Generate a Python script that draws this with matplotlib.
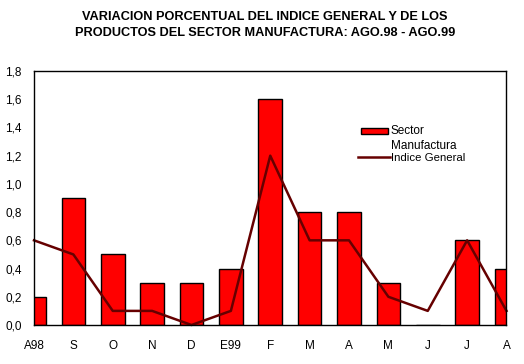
import matplotlib
matplotlib.use("Agg")
import matplotlib.pyplot as plt
from matplotlib.patches import Rectangle
from matplotlib.lines import Line2D
import numpy as np

plt.rcParams['font.family'] = ['Liberation Sans', 'DejaVu Sans']

months = ["A98", "S", "O", "N", "D", "E99", "F", "M", "A", "M", "J", "J", "A"]
sector = [0.2, 0.9, 0.5, 0.3, 0.3, 0.4, 1.6, 0.8, 0.8, 0.3, 0.0, 0.6, 0.4]
indice = [0.6, 0.5, 0.1, 0.1, 0.0, 0.1, 1.2, 0.6, 0.6, 0.2, 0.1, 0.6, 0.1]
yticks = [0.0, 0.2, 0.4, 0.6, 0.8, 1.0, 1.2, 1.4, 1.6, 1.8]

fig = plt.figure(figsize=(5.24, 3.64), dpi=100)
ax = fig.add_axes([34/524, 1-325/364, (506.5-34)/524, (325-71)/364])

x = np.arange(len(months))
ax.bar(x, sector, width=0.6, color='#FF0000', edgecolor='black', linewidth=1.0, zorder=2)
ax.plot(x, indice, color='#660000', linewidth=1.8, zorder=3, clip_on=False)

ax.set_xlim(0, len(months)-1)
ax.set_ylim(0, 1.8)
ax.set_yticks(yticks)
ax.set_yticklabels([f"{v:.1f}".replace('.', ',') for v in yticks], fontsize=8.5)
ax.set_xticks(x)
ax.set_xticklabels(months, fontsize=8.5)
ax.tick_params(axis='y', length=0, pad=9)
ax.tick_params(axis='x', length=0, pad=11)
for s in ax.spines.values():
    s.set_linewidth(1.0)
    s.set_zorder(4)

# legend
ax.add_patch(Rectangle((0.692, 0.753), 0.057, 0.024, transform=ax.transAxes,
                       facecolor='#FF0000', edgecolor='black', linewidth=1.0, clip_on=False))
ax.text(0.755, 0.765, "Sector", transform=ax.transAxes, fontsize=8.5, va='center', ha='left')
ax.text(0.755, 0.703, "Manufactura", transform=ax.transAxes, fontsize=8.5, va='center', ha='left')
ax.add_line(Line2D([0.686, 0.753], [0.661, 0.661], transform=ax.transAxes,
                   color='#660000', linewidth=1.8))
ax.text(0.755, 0.658, "Indice General", transform=ax.transAxes, fontsize=8.2, va='center', ha='left')

fig.text(0.506, 1-17/364, "VARIACION PORCENTUAL DEL INDICE GENERAL Y DE LOS",
         ha='center', va='center', fontsize=9.2, fontweight='bold')
fig.text(0.506, 1-33/364, "PRODUCTOS DEL SECTOR MANUFACTURA: AGO.98 - AGO.99",
         ha='center', va='center', fontsize=9.2, fontweight='bold')

fig.savefig("out.png", dpi=100)
